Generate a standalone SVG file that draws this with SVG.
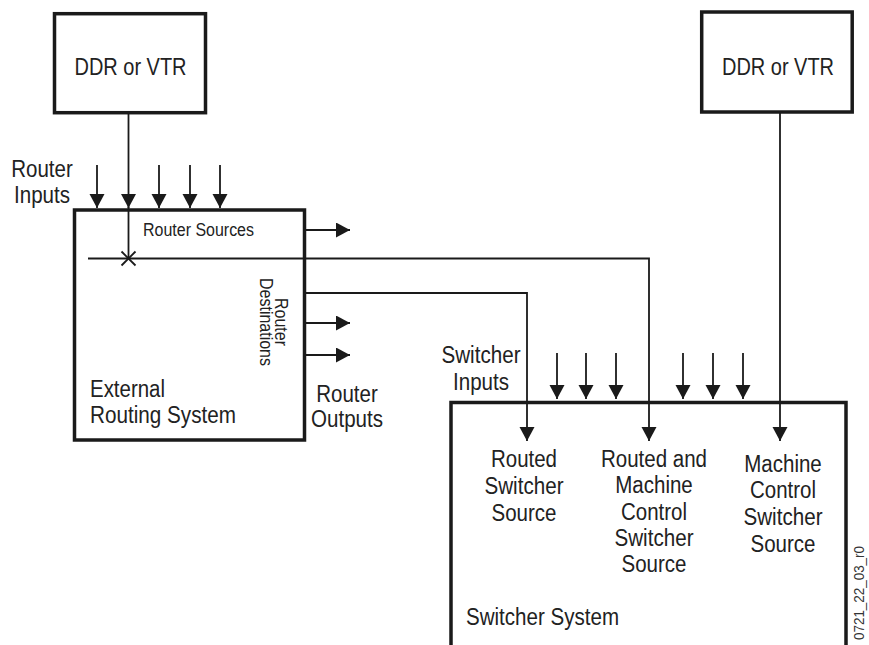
<svg xmlns="http://www.w3.org/2000/svg" width="869" height="645" viewBox="0 0 869 645">
<style>
  .box { fill: #fff; stroke: #1a1a1a; stroke-width: 3.5; }
  .ln { fill: none; stroke: #1a1a1a; stroke-width: 1.8; }
  .arr { fill: none; stroke: #1a1a1a; stroke-width: 1.8; marker-end: url(#ah); }
  text { font-family: "Liberation Sans", Arial, sans-serif; fill: #222; }
  .lbl { font-size: 23px; }
  .sm { font-size: 18px; }
  .mid { text-anchor: middle; }
</style>
<defs>
  <marker id="ah" markerUnits="userSpaceOnUse" markerWidth="14" markerHeight="16" refX="14" refY="7.5" orient="auto">
    <path d="M0,0 L14,7.5 L0,15 z" fill="#1a1a1a"/>
  </marker>
</defs>

<g id="ddr-left">
  <rect class="box" x="54.5" y="13.7" width="151" height="99"/>
  <text class="lbl mid" x="130.5" y="75" textLength="112" lengthAdjust="spacingAndGlyphs">DDR or VTR</text>
</g>

<g id="ddr-right">
  <rect class="box" x="701.7" y="12" width="150.5" height="100"/>
  <text class="lbl mid" x="778" y="75" textLength="112" lengthAdjust="spacingAndGlyphs">DDR or VTR</text>
</g>

<g id="router">
  <rect class="box" x="74.5" y="210" width="230" height="230"/>
  <text class="sm" x="143" y="236" textLength="111" lengthAdjust="spacingAndGlyphs">Router Sources</text>
  <g transform="translate(275,322) rotate(90)">
    <text class="sm mid" x="0" y="0" textLength="48" lengthAdjust="spacingAndGlyphs">Router</text>
    <text class="sm mid" x="0" y="15" textLength="88" lengthAdjust="spacingAndGlyphs">Destinations</text>
  </g>
  <text class="lbl" x="90" y="397" textLength="75" lengthAdjust="spacingAndGlyphs">External</text>
  <text class="lbl" x="90" y="423" textLength="146" lengthAdjust="spacingAndGlyphs">Routing System</text>
</g>

<g id="switcher">
  <path class="box" d="M451,660 L451,402.5 L846,402.5 L846,660"/>
  <text class="lbl mid" x="524" y="467" textLength="66" lengthAdjust="spacingAndGlyphs">Routed</text>
  <text class="lbl mid" x="524" y="494" textLength="79" lengthAdjust="spacingAndGlyphs">Switcher</text>
  <text class="lbl mid" x="524" y="521" textLength="65" lengthAdjust="spacingAndGlyphs">Source</text>
  <text class="lbl mid" x="654" y="467" textLength="106" lengthAdjust="spacingAndGlyphs">Routed and</text>
  <text class="lbl mid" x="654" y="493" textLength="77.5" lengthAdjust="spacingAndGlyphs">Machine</text>
  <text class="lbl mid" x="654" y="520" textLength="66" lengthAdjust="spacingAndGlyphs">Control</text>
  <text class="lbl mid" x="654" y="546" textLength="79" lengthAdjust="spacingAndGlyphs">Switcher</text>
  <text class="lbl mid" x="654" y="572" textLength="65" lengthAdjust="spacingAndGlyphs">Source</text>
  <text class="lbl mid" x="783" y="472" textLength="77.5" lengthAdjust="spacingAndGlyphs">Machine</text>
  <text class="lbl mid" x="783" y="498" textLength="66" lengthAdjust="spacingAndGlyphs">Control</text>
  <text class="lbl mid" x="783" y="525" textLength="79" lengthAdjust="spacingAndGlyphs">Switcher</text>
  <text class="lbl mid" x="783" y="552" textLength="65" lengthAdjust="spacingAndGlyphs">Source</text>
  <text class="lbl" x="466" y="625" textLength="153" lengthAdjust="spacingAndGlyphs">Switcher System</text>
</g>

<g id="labels">
  <text class="lbl mid" x="42" y="177" textLength="61.5" lengthAdjust="spacingAndGlyphs">Router</text>
  <text class="lbl mid" x="42" y="203" textLength="56" lengthAdjust="spacingAndGlyphs">Inputs</text>
  <text class="lbl mid" x="347" y="402" textLength="61.5" lengthAdjust="spacingAndGlyphs">Router</text>
  <text class="lbl mid" x="347" y="427" textLength="72" lengthAdjust="spacingAndGlyphs">Outputs</text>
  <text class="lbl mid" x="481" y="363" textLength="79" lengthAdjust="spacingAndGlyphs">Switcher</text>
  <text class="lbl mid" x="481" y="390" textLength="56" lengthAdjust="spacingAndGlyphs">Inputs</text>
  <text x="864" y="640" transform="rotate(-90 864 640)" style="font-size:15px;fill:#333" textLength="94" lengthAdjust="spacingAndGlyphs">0721_22_03_r0</text>
</g>

<g id="connectors">
  <line class="arr" x1="97" y1="165" x2="97" y2="208"/>
  <line class="arr" x1="159" y1="165" x2="159" y2="208"/>
  <line class="arr" x1="190" y1="165" x2="190" y2="208"/>
  <line class="arr" x1="220" y1="165" x2="220" y2="208"/>
  <line class="arr" x1="128.5" y1="113" x2="128.5" y2="208"/>
  <line class="ln" x1="128.5" y1="207" x2="128.5" y2="258.5"/>
  <line class="ln" x1="121.5" y1="251.5" x2="135.5" y2="265.5"/>
  <line class="ln" x1="135.5" y1="251.5" x2="121.5" y2="265.5"/>
  <path class="arr" d="M88,258.5 L649,258.5 L649,441"/>
  <line class="arr" x1="306" y1="230" x2="350" y2="230"/>
  <path class="arr" d="M306,293 L527,293 L527,441"/>
  <line class="arr" x1="306" y1="323" x2="350" y2="323"/>
  <line class="arr" x1="306" y1="355" x2="350" y2="355"/>
  <line class="arr" x1="557" y1="353" x2="557" y2="399"/>
  <line class="arr" x1="586" y1="353" x2="586" y2="399"/>
  <line class="arr" x1="616" y1="353" x2="616" y2="399"/>
  <line class="arr" x1="683" y1="353" x2="683" y2="399"/>
  <line class="arr" x1="713" y1="353" x2="713" y2="399"/>
  <line class="arr" x1="743" y1="353" x2="743" y2="399"/>
  <line class="arr" x1="780" y1="112" x2="780" y2="441"/>
</g>
</svg>
